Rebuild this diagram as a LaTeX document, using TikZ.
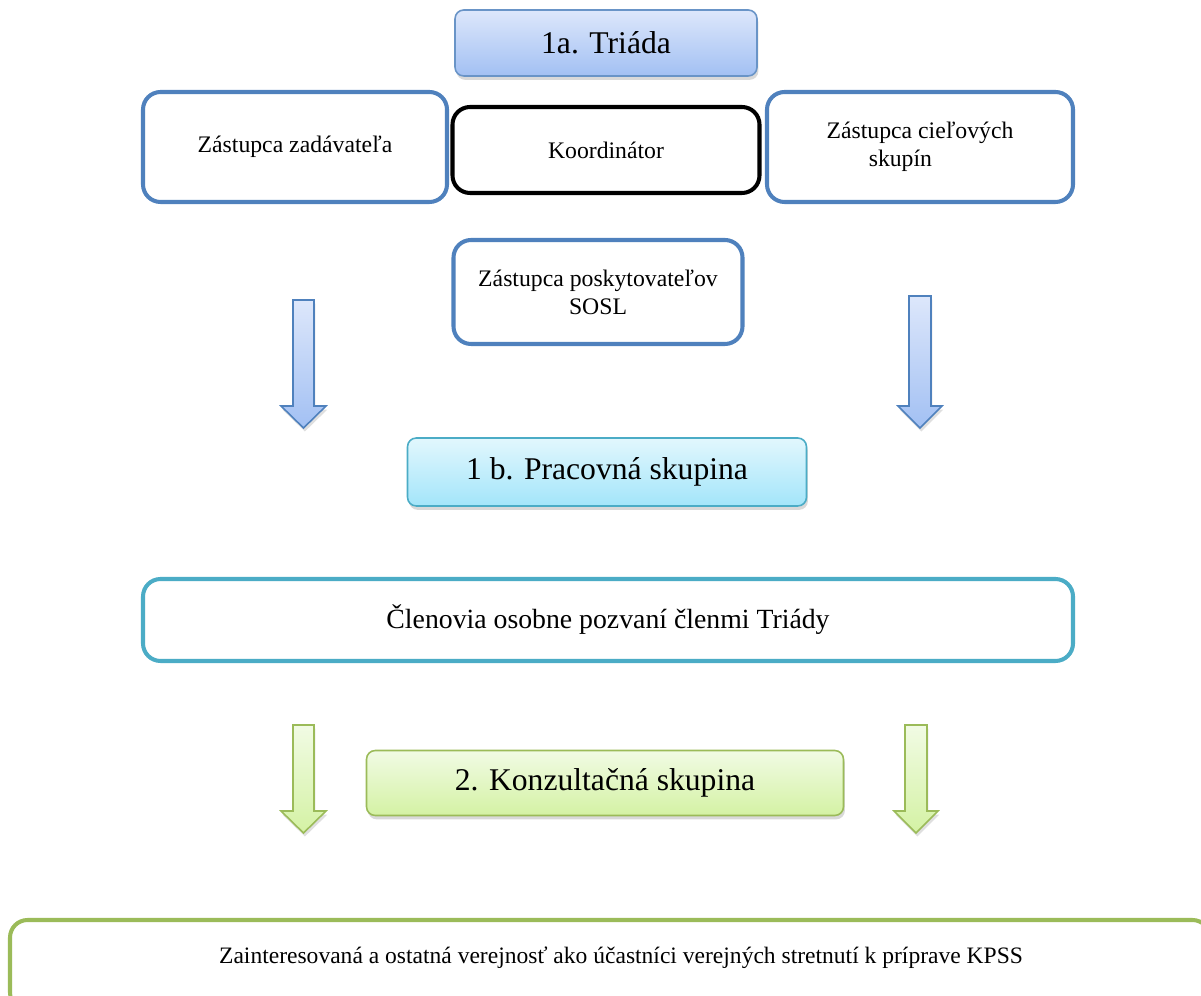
\documentclass[tikz,border=0pt]{standalone}
\usepackage{fontspec}
\setmainfont{Liberation Serif}
\usetikzlibrary{shadows}

\definecolor{officeblue}{HTML}{4F81BD}
\definecolor{officeteal}{HTML}{4BACC6}
\definecolor{officegreen}{HTML}{9BBB59}
\definecolor{bluetop}{HTML}{DDE7FB}
\definecolor{bluebottom}{HTML}{A2C0F3}
\definecolor{cyantop}{HTML}{E2F7FD}
\definecolor{cyanbottom}{HTML}{A3E5FA}
\definecolor{greentop}{HTML}{F1FBE4}
\definecolor{greenbottom}{HTML}{D4F2A4}

\tikzset{
	member/.style={draw=officeblue, line width=2.3pt, rounded corners=10pt, fill=white,
		align=center, font=\fontsize{13.5}{16}\selectfont},
	level/.style={rounded corners=5pt, line width=0.9pt, font=\fontsize{18}{21}\selectfont,
		drop shadow={shadow xshift=0.8pt, shadow yshift=-2.2pt, opacity=0.3}},
	bluelevel/.style={level, draw=officeblue!85, top color=bluetop, bottom color=bluebottom},
	bluearrow/.style={draw=officeblue, line width=0.9pt, top color=bluetop, bottom color=bluebottom,
		drop shadow={shadow xshift=0.8pt, shadow yshift=-2pt, opacity=0.25}},
	greenarrow/.style={draw=officegreen, line width=0.9pt, top color=greentop, bottom color=greenbottom,
		drop shadow={shadow xshift=0.8pt, shadow yshift=-2pt, opacity=0.25}}
}

\begin{document}
\begin{tikzpicture}[x=0.02cm, y=-0.02cm]
	\useasboundingbox (0,0) rectangle (1201,996);

	% Triada
	\node[bluelevel, minimum width=302*0.02cm, minimum height=66*0.02cm] (triada) at (606,43) {1a. Triáda};

	% members of the triad
	\node[member, minimum width=304*0.02cm, minimum height=110*0.02cm] (zadavatel) at (295,147) {Zástupca zadávateľa};
	\node[member, draw=black, minimum width=307*0.02cm, minimum height=86*0.02cm] (koordinator) at (606,150) {Koordinátor};
	\node[member, minimum width=306*0.02cm, minimum height=110*0.02cm, align=left] (ciel) at (920,147)
		{Zástupca cieľových\\\hspace*{24pt}skupín};
	\node[member, minimum width=289*0.02cm, minimum height=104*0.02cm] (sosl) at (598,292)
		{Zástupca poskytovateľov\\SOSL};

	% arrows to the working group
	\draw[bluearrow] (293,300) -- (314,300) -- (314,406) -- (326,406) -- (303.5,428)
		-- (281,406) -- (293,406) -- cycle;
	\draw[bluearrow] (909,296) -- (931,296) -- (931,406) -- (942,406) -- (920,428)
		-- (898,406) -- (909,406) -- cycle;

	% working group
	\node[level, draw=officeteal, top color=cyantop, bottom color=cyanbottom,
		minimum width=399*0.02cm, minimum height=68*0.02cm] (pracovna) at (607,472) {1 b. Pracovná skupina};
	\node[member, draw=officeteal, minimum width=930*0.02cm, minimum height=82*0.02cm,
		font=\fontsize{15.8}{18}\selectfont] (clenovia) at (608,620)
		{Členovia osobne pozvaní členmi Triády};

	% arrows to the consultation group
	\draw[greenarrow] (293,725) -- (314,725) -- (314,811) -- (326,811) -- (303.5,833)
		-- (281,811) -- (293,811) -- cycle;
	\draw[greenarrow] (905,725) -- (927,725) -- (927,811) -- (938,811) -- (916,833)
		-- (894,811) -- (905,811) -- cycle;

	% consultation group
	\node[level, draw=officegreen, top color=greentop, bottom color=greenbottom,
		minimum width=477*0.02cm, minimum height=65*0.02cm] (konzultacna) at (605,783) {2. Konzultačná skupina};
	\node[member, draw=officegreen, minimum width=1200*0.02cm, minimum height=90*0.02cm] (verejnost) at (610,965) {};
	\node[font=\fontsize{13.4}{16}\selectfont] (verejnosttext) at (621,958)
		{Zainteresovaná a ostatná verejnosť ako účastníci verejných stretnutí k príprave KPSS};
\end{tikzpicture}
\end{document}
